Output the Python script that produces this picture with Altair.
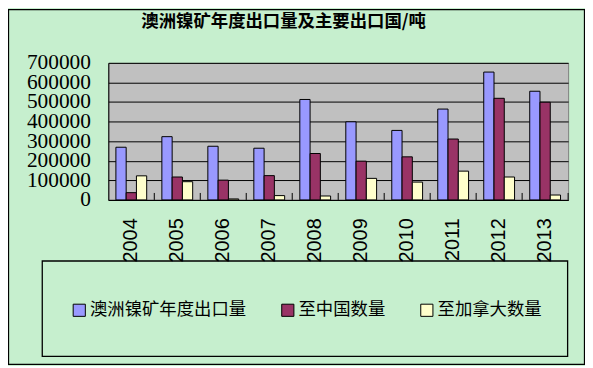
import altair as alt
import pandas as pd

years = ['2004', '2005', '2006', '2007', '2008', '2009', '2010', '2011', '2012', '2013']
total = [269000, 323000, 274000, 264000, 513000, 399000, 355000, 464000, 653000, 555000]
china = [37000, 117000, 101000, 124000, 237000, 198000, 220000, 311000, 519000, 499000]
canada = [123000, 93000, 5000, 22000, 20000, 110000, 91000, 147000, 117000, 25000]
series = ['澳洲镍矿年度出口量', '至中国数量', '至加拿大数量']
colors = ['#9999FF', '#993366', '#FFFFCC']
y_ticks = [0, 100000, 200000, 300000, 400000, 500000, 600000, 700000]
title_text = '澳洲镍矿年度出口量及主要出口国/吨'

rows = []
for i, y in enumerate(years):
    for s, vals in zip(series, [total, china, canada]):
        rows.append({'year': y, 'series': s, 'value': vals[i]})
df = pd.DataFrame(rows)

W, H = 463, 138

bars = alt.Chart(df).mark_bar(stroke='black', strokeWidth=1).encode(
    x=alt.X('year:N', title=None,
            scale=alt.Scale(paddingInner=0.33, paddingOuter=0.165),
            axis=alt.Axis(labelAngle=270, labelFont='Liberation Sans', labelFontSize=20,
                          labelColor='black', labelPadding=18, ticks=False,
                          domainColor='black', domainWidth=1, grid=False)),
    xOffset=alt.XOffset('series:N', sort=series, scale=alt.Scale(paddingInner=0, paddingOuter=0)),
    y=alt.Y('value:Q', title=None,
            scale=alt.Scale(domain=[0, 700000], nice=False),
            axis=alt.Axis(values=y_ticks, format='d', labelFont='Liberation Serif',
                          labelFontSize=21.5, labelColor='black', labelPadding=18,
                          ticks=False, domainColor='black', domainWidth=1,
                          gridColor='black', gridWidth=1, gridOpacity=1,
                          labelOverlap=False, labelFlush=False)),
    color=alt.Color('series:N', sort=series,
                    scale=alt.Scale(domain=series, range=colors),
                    legend=alt.Legend(title=None, orient='none', direction='horizontal',
                                      legendX=-38, legendY=240, symbolType='square',
                                      symbolSize=150, symbolStrokeColor='black',
                                      symbolStrokeWidth=1, labelFont='Noto Sans CJK SC',
                                      labelFontSize=17.5, labelColor='black',
                                      labelOffset=2, columnPadding=33, padding=0)),
)

tick_df = pd.DataFrame({'b': list(range(1, len(years) + 1))})
ticks = alt.Chart(tick_df).mark_rule(color='black', strokeWidth=1).encode(
    x=alt.X('b:Q', scale=alt.Scale(domain=[0, len(years)], nice=False, zero=False), axis=None),
    y=alt.value(H),
    y2=alt.value(H - 7),
)

box_df = pd.DataFrame({'k': [0]})
legend_box = alt.Chart(box_df).mark_rect(fillOpacity=0, stroke='black', strokeWidth=1.3).encode(
    x=alt.value(-66.5), x2=alt.value(462.5), y=alt.value(199.5), y2=alt.value(295.5)
)
outer_box = alt.Chart(box_df).mark_rect(fillOpacity=0, stroke='black', strokeWidth=1.3).encode(
    x=alt.value(-100.5), x2=alt.value(479.5), y=alt.value(-53.5), y2=alt.value(303.5)
)

chart = alt.layer(outer_box, legend_box, bars, ticks).resolve_scale(
    x='independent'
).properties(
    width=W, height=H,
    autosize='none',
    padding={'left': 101, 'top': 54, 'right': 17, 'bottom': 166},
    title=alt.TitleParams(text=title_text, font='Noto Sans CJK SC', fontSize=17.5,
                          fontWeight='bold', anchor='middle', dx=-55, dy=40, offset=0,
                          baseline='bottom', color='black'),
).configure(
    background='#C6EFCE'
).configure_view(
    fill='#C0C0C0', stroke='#808080', strokeWidth=1
)

chart.save('out.html', embed_options={'renderer': 'svg', 'actions': False})
